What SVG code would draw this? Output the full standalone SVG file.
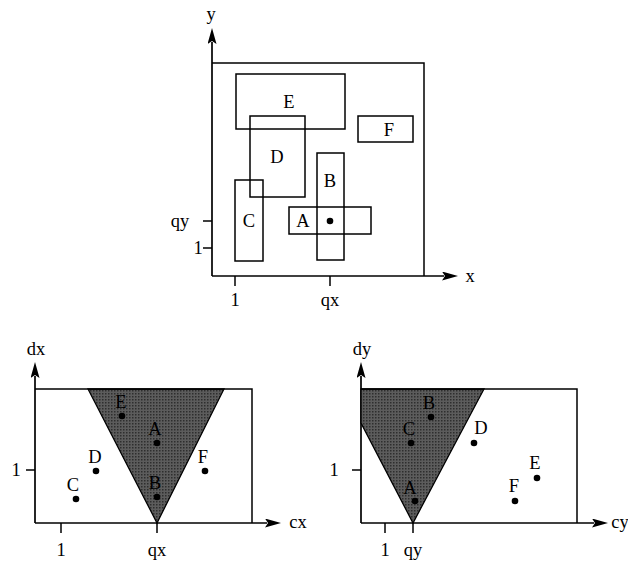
<svg xmlns="http://www.w3.org/2000/svg" width="628" height="564" viewBox="0 0 628 564">
<style>
text{font-family:"Liberation Serif","Times New Roman",serif;font-size:18.5px;fill:#000;text-anchor:middle;dominant-baseline:central}
.ln{fill:none;stroke:#000;stroke-width:1.5}
.ax{fill:none;stroke:#000;stroke-width:1.7;marker-end:url(#ah)}
.dot{fill:#000}
.tri{fill:url(#hatch);stroke:#000;stroke-width:1.3}
</style>
<defs>
<marker id="ah" viewBox="0 0 16 9" refX="2" refY="4.5" markerWidth="16" markerHeight="9" markerUnits="userSpaceOnUse" orient="auto">
<path d="M0,0 L16,4.5 L0,9 L3,4.5 Z" fill="#000"/>
</marker>
<pattern id="hatch" width="3" height="3" patternUnits="userSpaceOnUse">
<rect width="3" height="3" fill="#5c5c5c"/>
<rect width="1.5" height="1.5" fill="#2e2e2e"/>
</pattern>
</defs>
<rect width="628" height="564" fill="#fff"/>

<g id="connectors">
<line class="ax" x1="212" y1="276" x2="212" y2="42"/>
<line class="ax" x1="212" y1="276" x2="444" y2="276"/>
<line class="ln" x1="203" y1="221" x2="212" y2="221"/>
<line class="ln" x1="203" y1="248" x2="212" y2="248"/>
<line class="ln" x1="235" y1="276" x2="235" y2="286"/>
<line class="ln" x1="330" y1="276" x2="330" y2="286"/>
<line class="ax" x1="35" y1="523" x2="35" y2="376"/>
<line class="ax" x1="35" y1="523" x2="267" y2="523"/>
<line class="ln" x1="26" y1="470" x2="35" y2="470"/>
<line class="ln" x1="61" y1="523" x2="61" y2="533"/>
<line class="ln" x1="157" y1="523" x2="157" y2="533"/>
<line class="ax" x1="361" y1="523" x2="361" y2="376"/>
<line class="ax" x1="361" y1="523" x2="594" y2="523"/>
<line class="ln" x1="352" y1="470" x2="361" y2="470"/>
<line class="ln" x1="385" y1="523" x2="385" y2="533"/>
<line class="ln" x1="413" y1="523" x2="413" y2="533"/>
</g>

<g id="top-plot">
<polyline class="ln" points="212,63 424,63 424,276"/>
<text x="211" y="14">y</text>
<text x="470" y="276">x</text>
<text x="180" y="221">qy</text>
<text x="198" y="248">1</text>
<text x="235" y="300">1</text>
<text x="330" y="300">qx</text>
</g>
<g id="rect-E"><rect class="ln" x="236" y="74" width="109" height="55"/><text x="289" y="102">E</text></g>
<g id="rect-F"><rect class="ln" x="358" y="116" width="55" height="26"/><text x="389" y="130">F</text></g>
<g id="rect-D"><rect class="ln" x="250" y="116" width="55" height="81"/><text x="277" y="157">D</text></g>
<g id="rect-C"><rect class="ln" x="235" y="180" width="28" height="81"/><text x="249" y="221">C</text></g>
<g id="rect-B"><rect class="ln" x="317" y="153" width="27" height="107"/><text x="330" y="181">B</text></g>
<g id="rect-A"><rect class="ln" x="289" y="207" width="82" height="27"/><text x="303" y="221">A</text></g>
<g id="query-point"><circle class="dot" cx="330" cy="221" r="3.3"/></g>

<g id="plot-x">
<polygon class="tri" points="88,389 224,389 157,523"/>
<polyline class="ln" points="35,389 252,389 252,523"/>
<text x="36" y="349">dx</text>
<text x="298" y="522">cx</text>
<text x="16" y="470">1</text>
<text x="61" y="550">1</text>
<text x="157" y="550">qx</text>
<circle class="dot" cx="76" cy="499" r="3.3"/><text x="73" y="485">C</text>
<circle class="dot" cx="96" cy="471" r="3.3"/><text x="95" y="457">D</text>
<circle class="dot" cx="205" cy="471" r="3.3"/><text x="203" y="457">F</text>
<circle class="dot" cx="122" cy="416" r="3.3"/><text x="121" y="402" fill="#111">E</text>
<circle class="dot" cx="157" cy="443" r="3.3"/><text x="155" y="429" fill="#111">A</text>
<circle class="dot" cx="157" cy="497" r="3.3"/><text x="155" y="483" fill="#111">B</text>
</g>

<g id="plot-y">
<polygon class="tri" points="361,389 484,389 413,523 361,423"/>
<polyline class="ln" points="361,389 577,389 577,523"/>
<text x="362" y="349">dy</text>
<text x="620" y="522">cy</text>
<text x="334" y="470">1</text>
<text x="385" y="550">1</text>
<text x="413" y="550">qy</text>
<circle class="dot" cx="431" cy="417" r="3.3"/><text x="429" y="403" fill="#111">B</text>
<circle class="dot" cx="411" cy="443" r="3.3"/><text x="409" y="429" fill="#111">C</text>
<circle class="dot" cx="474" cy="443" r="3.3"/><text x="481" y="428">D</text>
<circle class="dot" cx="537" cy="478" r="3.3"/><text x="535" y="463">E</text>
<circle class="dot" cx="515" cy="501" r="3.3"/><text x="514" y="486">F</text>
<circle class="dot" cx="415" cy="501" r="3.3"/><text x="410" y="488" fill="#111">A</text>
</g>
</svg>
